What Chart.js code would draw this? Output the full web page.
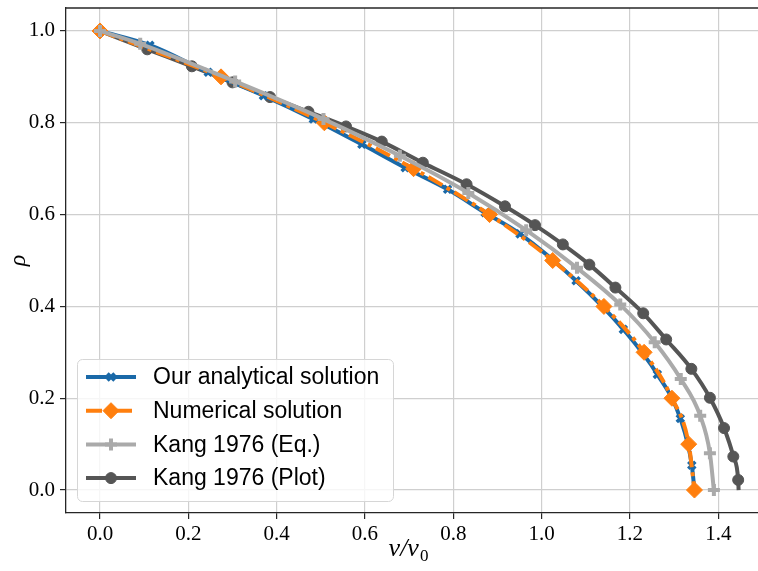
<!DOCTYPE html>
<html>
<head>
<meta charset="utf-8">
<script src="https://cdn.jsdelivr.net/npm/chart.js@4.4.0/dist/chart.umd.js"></script>
<style>
  html, body { margin: 0; padding: 0; background: #fff; overflow: hidden; }
  #wrap { width: 758px; height: 571px; overflow: hidden; }
  #chart { display: block; }
</style>
</head>
<body>
<div id="wrap"><canvas id="chart" width="766" height="571"></canvas></div>
<script>
// Data (v/v0 on x, rho on y)
const analyticX = [0, 0.113, 0.245, 0.370, 0.483, 0.593, 0.691, 0.787, 0.872, 0.951, 1.078, 1.185, 1.262, 1.314, 1.340, 1.346];
const analyticY = [1.0, 0.969, 0.910, 0.859, 0.808, 0.753, 0.702, 0.655, 0.604, 0.558, 0.456, 0.350, 0.252, 0.156, 0.054, 0.0];

const numericX = [0, 0.274, 0.508, 0.710, 0.882, 1.025, 1.141, 1.232, 1.295, 1.333, 1.346];
const numericY = [1.0, 0.9, 0.8, 0.7, 0.6, 0.5, 0.4, 0.3, 0.2, 0.1, 0.0];

const kangEqX = [0, 0.091, 0.306, 0.506, 0.679, 0.834, 0.965, 1.080, 1.178, 1.256, 1.315, 1.359, 1.381, 1.390];
const kangEqY = [1.0, 0.972, 0.890, 0.808, 0.728, 0.647, 0.566, 0.484, 0.404, 0.322, 0.242, 0.162, 0.080, 0.0];

const kangPlotX = [0, 0.107, 0.208, 0.300, 0.385, 0.472, 0.557, 0.638, 0.731, 0.830, 0.917, 0.985, 1.048, 1.108, 1.167, 1.230, 1.282, 1.339, 1.381, 1.413, 1.434, 1.445, 1.446];
const kangPlotY = [1.0, 0.960, 0.923, 0.888, 0.856, 0.824, 0.792, 0.759, 0.713, 0.666, 0.618, 0.577, 0.535, 0.491, 0.441, 0.385, 0.328, 0.264, 0.201, 0.135, 0.073, 0.022, 0.0];

// tick values shown on the axes
const xTicks = [0.0, 0.2, 0.4, 0.6, 0.8, 1.0, 1.2, 1.4];
const yTicks = [0.0, 0.2, 0.4, 0.6, 0.8, 1.0];

const seriesNames = ['Our analytical solution', 'Numerical solution', 'Kang 1976 (Eq.)', 'Kang 1976 (Plot)'];

const BLUE = '#1a69a8';
const ORANGE = '#ff7f0e';
const LIGHT = '#aaaaaa';
const DARK = '#555555';

function pts(xs, ys) {
    return xs.map((x, i) => ({ x: x, y: ys[i] }));
}

// last Kang plot point has no marker in the reference
const plotRadius = kangPlotX.map((_, i) => i === kangPlotX.length - 1 ? 0 : 5.5);

// Legend entries (style for the drawn samples)
const legendItems = [
    { text: seriesNames[0], color: BLUE, dash: [], style: 'crossRot', radius: 5, bw: 3.5, fill: BLUE },
    { text: seriesNames[1], color: ORANGE, dash: [16, 5, 4, 5], style: 'rectRot', radius: 8, bw: 1, fill: ORANGE },
    { text: seriesNames[2], color: LIGHT, dash: [], style: 'cross', radius: 6, bw: 4, fill: LIGHT },
    { text: seriesNames[3], color: DARK, dash: [], style: 'circle', radius: 5.5, bw: 1, fill: DARK }
];

const framePlugin = {
    id: 'frame',
    afterDatasetsDraw(chart) {
        const ctx = chart.ctx;
        const a = chart.chartArea;
        ctx.save();
        // top spine
        ctx.strokeStyle = '#262626';
        ctx.lineWidth = 1.3;
        ctx.beginPath();
        ctx.moveTo(a.left, a.top);
        ctx.lineTo(a.right, a.top);
        ctx.stroke();

        // legend box
        const bx = 77, by = 359, bw = 316, bh = 142, r = 5;
        ctx.fillStyle = 'rgba(255,255,255,0.8)';
        ctx.strokeStyle = '#d6d6d6';
        ctx.lineWidth = 1;
        ctx.beginPath();
        ctx.roundRect(bx + 0.5, by + 0.5, bw, bh, r);
        ctx.fill();
        ctx.stroke();

        ctx.font = '23px "Liberation Sans", Arial, sans-serif';
        ctx.textBaseline = 'middle';
        ctx.textAlign = 'left';
        legendItems.forEach((it, i) => {
            const y = 377 + i * 33.7;
            ctx.save();
            ctx.strokeStyle = it.color;
            ctx.lineWidth = 4;
            ctx.setLineDash(it.dash);
            ctx.beginPath();
            ctx.moveTo(86, y);
            ctx.lineTo(136, y);
            ctx.stroke();
            ctx.restore();
            ctx.save();
            ctx.fillStyle = it.fill;
            ctx.strokeStyle = it.color;
            ctx.lineWidth = it.bw;
            Chart.helpers.drawPoint(ctx, { pointStyle: it.style, radius: it.radius, borderWidth: it.bw, rotation: 0 }, 111, y);
            ctx.restore();
            ctx.fillStyle = '#000';
            ctx.fillText(it.text, 153, y + 1);
        });

        // x axis title v/v0
        ctx.fillStyle = '#000';
        ctx.textBaseline = 'alphabetic';
        ctx.font = 'italic 26px "Liberation Serif", "DejaVu Serif", serif';
        const main = 'v/v';
        const w1 = ctx.measureText(main).width;
        ctx.font = '17px "Liberation Serif", "DejaVu Serif", serif';
        const w2 = ctx.measureText('0').width;
        const x0 = 408 - (w1 + w2) / 2;
        ctx.font = 'italic 26px "Liberation Serif", "DejaVu Serif", serif';
        ctx.fillText(main, x0, 556);
        ctx.font = '17px "Liberation Serif", "DejaVu Serif", serif';
        ctx.fillText('0', x0 + w1 + 1, 561);
        ctx.restore();
    }
};

const tickFont = { family: '"Liberation Serif", "DejaVu Serif", serif', size: 21 };

// use exactly the listed tick values
function setTicks(list) {
    return (scale) => { scale.ticks = list.map(v => ({ value: v })); };
}

// grid only on the listed ticks, nothing at the plot edges
function gridColor(c) {
    return (c.tick && c.tick.value > -0.001 && c.tick.value < 1.401) ? '#cfcfcf' : 'rgba(0,0,0,0)';
}

const gridOpts = { color: gridColor, lineWidth: 1.2, tickLength: 6, tickColor: '#262626', tickWidth: 1.2 };

new Chart(document.getElementById('chart'), {
    type: 'line',
    data: {
        datasets: [
            {
                label: seriesNames[2],
                data: pts(kangEqX, kangEqY),
                borderColor: LIGHT,
                backgroundColor: LIGHT,
                borderWidth: 4,
                cubicInterpolationMode: 'monotone',
                pointStyle: 'cross',
                pointRadius: 6,
                pointBorderWidth: 4,
                pointBorderColor: LIGHT
            },
            {
                label: seriesNames[1],
                data: pts(numericX, numericY),
                borderColor: ORANGE,
                backgroundColor: ORANGE,
                borderWidth: 4,
                borderDash: [16, 5, 4, 5],
                cubicInterpolationMode: 'monotone',
                pointStyle: 'rectRot',
                pointRadius: 8,
                pointBorderWidth: 1,
                pointBackgroundColor: ORANGE,
                pointBorderColor: ORANGE
            },
            {
                label: seriesNames[0],
                data: pts(analyticX, analyticY),
                borderColor: BLUE,
                backgroundColor: BLUE,
                borderWidth: 4,
                cubicInterpolationMode: 'monotone',
                pointStyle: 'crossRot',
                pointRadius: 5,
                pointBorderWidth: 3.5,
                pointBorderColor: BLUE
            },
            {
                label: seriesNames[3],
                data: pts(kangPlotX, kangPlotY),
                borderColor: DARK,
                backgroundColor: DARK,
                borderWidth: 4,
                cubicInterpolationMode: 'monotone',
                pointStyle: 'circle',
                pointRadius: plotRadius,
                pointBorderWidth: 1,
                pointBackgroundColor: DARK,
                pointBorderColor: DARK
            }
        ]
    },
    options: {
        responsive: false,
        animation: false,
        devicePixelRatio: 1,
        layout: { autoPadding: false, padding: { top: 8, right: 0, bottom: 0, left: 0 } },
        plugins: {
            legend: { display: false },
            tooltip: { enabled: false }
        },
        scales: {
            x: {
                type: 'linear',
                min: -0.077,
                max: 1.508,
                afterBuildTicks: setTicks(xTicks),
                afterFit(scale) {
                    scale.height = 58;
                    scale.paddingLeft = 0;
                    scale.paddingRight = 0;
                },
                ticks: {
                    color: '#000',
                    font: tickFont,
                    padding: 3,
                    maxRotation: 0,
                    autoSkip: false,
                    callback: (v) => v.toFixed(1)
                },
                grid: gridOpts,
                border: { display: true, color: '#262626', width: 1.3 }
            },
            y: {
                type: 'linear',
                min: -0.05,
                max: 1.05,
                afterBuildTicks: setTicks(yTicks),
                afterFit(scale) {
                    scale.width = 66;
                    scale.paddingTop = 0;
                    scale.paddingBottom = 0;
                },
                ticks: {
                    color: '#000',
                    font: tickFont,
                    padding: 5,
                    autoSkip: false,
                    callback: (v) => v.toFixed(1)
                },
                title: {
                    display: true,
                    text: 'ρ',
                    color: '#000',
                    font: { family: '"Liberation Serif", "DejaVu Serif", serif', size: 24, style: 'italic' },
                    padding: { top: 4, bottom: 0 }
                },
                grid: gridOpts,
                border: { display: true, color: '#262626', width: 1.3 }
            }
        }
    },
    plugins: [framePlugin]
});
</script>
</body>
</html>
